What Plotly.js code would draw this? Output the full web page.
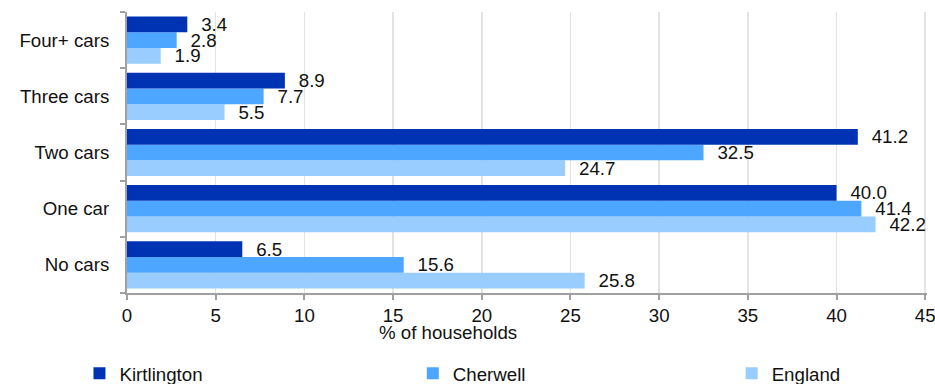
<!DOCTYPE html>
<html>
<head>
<meta charset="utf-8">
<script src="https://cdn.plot.ly/plotly-3.0.1.min.js"></script>
<style>html,body{margin:0;padding:0;background:#fff;}#chart{width:935px;height:384px;}</style>
</head>
<body>
<div id="chart"></div>
<script>
const categories = ["No cars", "One car", "Two cars", "Three cars", "Four+ cars"];
const kirtlington = [6.5, 40.0, 41.2, 8.9, 3.4];
const cherwell = [15.6, 41.4, 32.5, 7.7, 2.8];
const england = [25.8, 42.2, 24.7, 5.5, 1.9];
const xTicks = [0, 5, 10, 15, 20, 25, 30, 35, 40, 45];

const FONT = "Liberation Sans, Arial, sans-serif";
const FS = 18.7;
function series(name, vals, color, legendId) {
  return {
    type: "bar", orientation: "h", name: name, legend: legendId,
    x: vals, y: categories,
    marker: {color: color, line: {width: 0}},
    texttemplate: "\u2002\u200A%{x:.1f}",
    textposition: "outside", textangle: 0, constraintext: "none",
    cliponaxis: false,
    textfont: {family: FONT, size: FS, color: "#111"},
    hoverinfo: "skip"
  };
}
const data = [
  series("England", england, "#99ccff", "legend3"),
  series("Cherwell", cherwell, "#4da6ff", "legend2"),
  series("Kirtlington", kirtlington, "#0033b3", "legend")
];
function leg(xc) {
  return {orientation: "h", xref: "container", yref: "container", x: xc, xanchor: "left",
          y: 0.027, yanchor: "middle", bgcolor: "rgba(0,0,0,0)",
          font: {family: FONT, size: FS, color: "#111"}, itemwidth: 30};
}
const layout = {
  width: 935, height: 384,
  margin: {l: 126.5, r: 8.2, t: 12, b: 91},
  paper_bgcolor: "#fff", plot_bgcolor: "#fff",
  font: {family: FONT, size: FS, color: "#111"},
  barmode: "group", bargap: 0.16, bargroupgap: 0,
  showlegend: true,
  legend: leg(0.085), legend2: leg(0.4415), legend3: leg(0.7825),
  xaxis: {range: [0, 45.1], tickvals: xTicks, ticktext: xTicks.map(String),
          ticklabeloverflow: "allow",
          showgrid: true, gridcolor: "#e3e3e3", gridwidth: 1.5, zeroline: false,
          showline: true, linecolor: "#a0a0a0", linewidth: 2,
          ticks: "outside", ticklen: 5, tickcolor: "#a0a0a0", tickwidth: 2,
          tickfont: {family: FONT, size: FS, color: "#111"}, fixedrange: true},
  yaxis: {type: "category", categoryorder: "array", categoryarray: categories,
          showgrid: false, zeroline: false,
          showline: true, linecolor: "#a0a0a0", linewidth: 2,
          ticks: "outside", tickson: "boundaries", ticklen: 5, tickcolor: "#a0a0a0", tickwidth: 2,
          ticklabelstandoff: 12,
          tickfont: {family: FONT, size: FS, color: "#111"}, fixedrange: true},
  annotations: [{text: "% of households", xref: "paper", yref: "paper", x: 0.401, y: -0.142,
                 xanchor: "center", yanchor: "middle", showarrow: false,
                 font: {family: FONT, size: FS, color: "#111"}}]
};
Plotly.newPlot("chart", data, layout, {displayModeBar: false, staticPlot: true});
</script>
</body>
</html>
